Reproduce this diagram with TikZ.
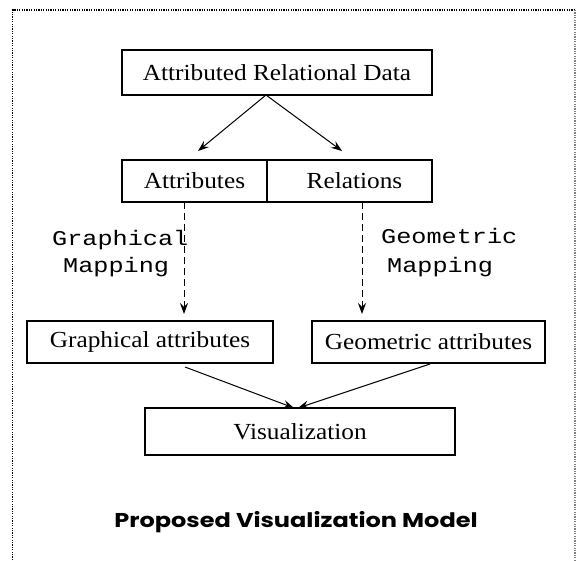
\documentclass[tikz,border=0pt]{standalone}
\usepackage{fontspec}
\setmainfont[FakeStretch=1.1]{Liberation Serif}
\newfontfamily\monofnt[FakeStretch=1.2]{Liberation Mono}
\newfontfamily\titlefnt[FakeStretch=1.2]{Poppins}
\usetikzlibrary{arrows.meta}
\begin{document}
\begin{tikzpicture}[x=1pt,y=-1pt,
  box/.style={draw,line width=1.1pt,inner sep=0pt,font=\fontsize{23}{27}\selectfont},
  lbl/.style={font=\monofnt\fontsize{21}{25}\selectfont,inner sep=0pt},
  arr/.style={line width=1pt,-{Stealth[length=11pt,width=8pt,inset=4pt]}},
  darr/.style={arr,dash pattern=on 7pt off 4pt},
  border/.style={line width=1.2pt,dash pattern=on 1.2pt off 1.2pt}]
\useasboundingbox (0,0) rectangle (576,560);
\fill[white] (0,0) rectangle (576,560);
\draw[border] (12.5,560) -- (12.5,10) -- (575,10);
\draw[border,gray] (575,10) -- (575,560);

\node[box,minimum width=310pt,minimum height=45pt] (ard) at (277,72.5) {Attributed Relational Data};
\node[box,minimum width=145pt,minimum height=42pt] (attr) at (194.5,181) {Attributes};
\node[box,minimum width=165pt,minimum height=42pt] (rel) at (349.5,181) {\hspace{10pt}Relations};
\node[box,minimum width=246pt,minimum height=42pt] (ga) at (150,342) {Graphical attributes};
\node[box,minimum width=233pt,minimum height=42pt] (geo) at (428.5,342) {Geometric attributes};
\node[box,minimum width=310pt,minimum height=47pt] (vis) at (300,431.5) {Visualization};

\node[lbl,anchor=west] (gm1) at (52,240) {Graphical};
\node[lbl,anchor=west] (gm2) at (63,267) {Mapping};
\node[lbl,anchor=west] (em1) at (381,236) {Geometric};
\node[lbl,anchor=west] (em2) at (387,267) {Mapping};

\node[font=\titlefnt\bfseries\fontsize{20}{24}\selectfont,inner sep=0pt] (title) at (296,522) {Proposed Visualization Model};

\coordinate (s0) at (266,95);
\coordinate (t1) at (198,151);
\coordinate (t2) at (342,151);
\draw[arr] (s0) -- (t1);
\draw[arr] (s0) -- (t2);

\coordinate (d1s) at (184,202);
\coordinate (d1e) at (184,314);
\coordinate (d2s) at (362,202);
\coordinate (d2e) at (362,314);
\draw[darr] (d1s) -- (d1e);
\draw[darr] (d2s) -- (d2e);

\coordinate (l1s) at (185,367);
\coordinate (l1e) at (294,408);
\coordinate (l2s) at (430,364);
\coordinate (l2e) at (298,408);
\draw[arr] (l1s) -- (l1e);
\draw[arr] (l2s) -- (l2e);
\end{tikzpicture}
\end{document}
